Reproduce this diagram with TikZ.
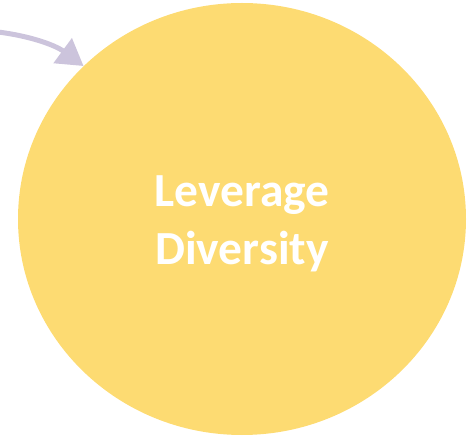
\documentclass[tikz,border=0pt]{standalone}
\usepackage{fontspec}
\setmainfont{Carlito}
\usetikzlibrary{arrows.meta,shapes.geometric}
\definecolor{circfill}{HTML}{FDDB72}
\definecolor{arrowcol}{HTML}{CCC4DC}
\tikzset{
  bigcirc/.style={ellipse, fill=circfill, draw=none, minimum width=448pt, minimum height=432pt, inner sep=0pt},
  labeltext/.style={text=white, font=\fontsize{47.5}{58}\selectfont\bfseries, align=center, inner sep=0pt},
  flowarrow/.style={draw=arrowcol, line width=5pt, -{Triangle[length=26pt,width=30pt]}}
}
\begin{document}
\begin{tikzpicture}[x=1pt,y=-1pt]
\useasboundingbox (0,0) rectangle (471,438);
\node[bigcirc] (circ) at (242,219) {};
\node[labeltext] (lbl) at (242,224) {Leverage\\Diversity};
\coordinate (start) at (-2,32);
\draw[flowarrow] (start) .. controls (30,36) and (55,45) .. (circ.136);
\end{tikzpicture}
\end{document}
